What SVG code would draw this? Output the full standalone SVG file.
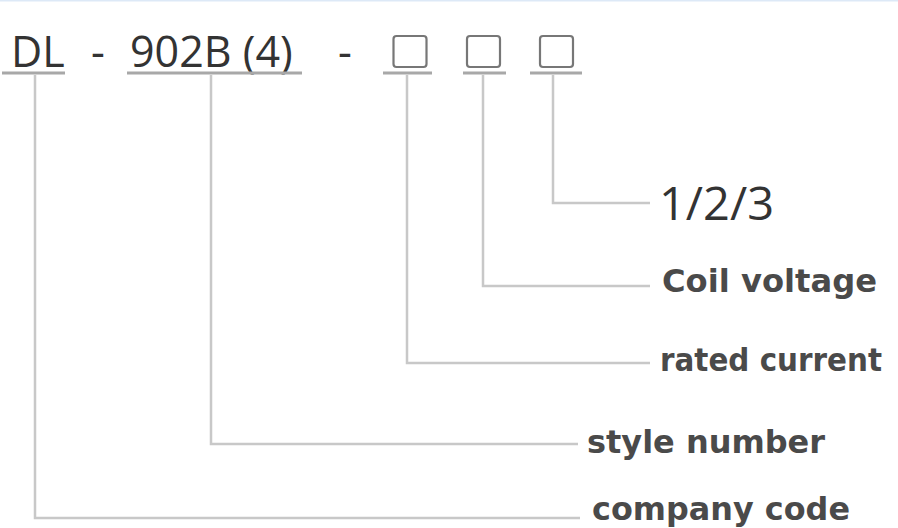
<svg xmlns="http://www.w3.org/2000/svg" width="898" height="528" viewBox="0 0 898 528">
<style>
.code{font-family:"Open Sans","Noto Sans",sans-serif;font-size:43px;fill:#333}
.lbl{font-family:"DejaVu Sans",sans-serif;font-weight:bold;font-size:32px;fill:#4a4a4a}
.num{font-family:"Open Sans","Noto Sans",sans-serif;font-size:45px;fill:#333}
.ul{stroke:#a8a8a8;stroke-width:3;fill:none}
.ln{stroke:#c8c8c8;stroke-width:2.5;fill:none}
.box{stroke:#777;stroke-width:2.2;fill:none}
</style>
<rect x="0" y="0" width="898" height="528" fill="#ffffff"/>
<rect x="0" y="0" width="898" height="1.5" fill="#dde9f7"/>
<g id="code-dl">
<text class="code" x="11" y="67">DL</text>
<line class="ul" x1="2" y1="73" x2="65" y2="73"/>
</g>
<text class="code" x="91" y="67">-</text>
<g id="code-style">
<text class="code" x="130" y="67">902B (4)</text>
<line class="ul" x1="127" y1="73" x2="302" y2="73"/>
</g>
<text class="code" x="338" y="67">-</text>
<g id="box-1">
<rect class="box" x="393.5" y="36" width="33" height="31" rx="3"/>
<line class="ul" x1="383" y1="73" x2="432" y2="73"/>
</g>
<g id="box-2">
<rect class="box" x="467" y="36" width="33" height="31" rx="3"/>
<line class="ul" x1="463" y1="73" x2="506" y2="73"/>
</g>
<g id="box-3">
<rect class="box" x="540" y="36" width="33" height="31" rx="3"/>
<line class="ul" x1="530" y1="73" x2="582" y2="73"/>
</g>
<g id="connectors">
<polyline class="ln" points="35,75 35,518 580,518"/>
<polyline class="ln" points="211,75 211,444 578,444"/>
<polyline class="ln" points="407,75 407,363 650,363"/>
<polyline class="ln" points="483,75 483,286 650,286"/>
<polyline class="ln" points="553,75 553,203 650,203"/>
</g>
<g id="label-123"><text class="num" x="659" y="220" textLength="115" lengthAdjust="spacingAndGlyphs">1/2/3</text></g>
<g id="label-coil"><text class="lbl" x="662" y="292" textLength="215" lengthAdjust="spacingAndGlyphs">Coil voltage</text></g>
<g id="label-rated"><text class="lbl" x="660" y="371" font-size="28" textLength="222" lengthAdjust="spacingAndGlyphs">rated current</text></g>
<g id="label-style"><text class="lbl" x="587" y="453" textLength="238" lengthAdjust="spacingAndGlyphs">style number</text></g>
<g id="label-company"><text class="lbl" x="592" y="520" font-size="31" textLength="258" lengthAdjust="spacingAndGlyphs">company code</text></g>
</svg>
